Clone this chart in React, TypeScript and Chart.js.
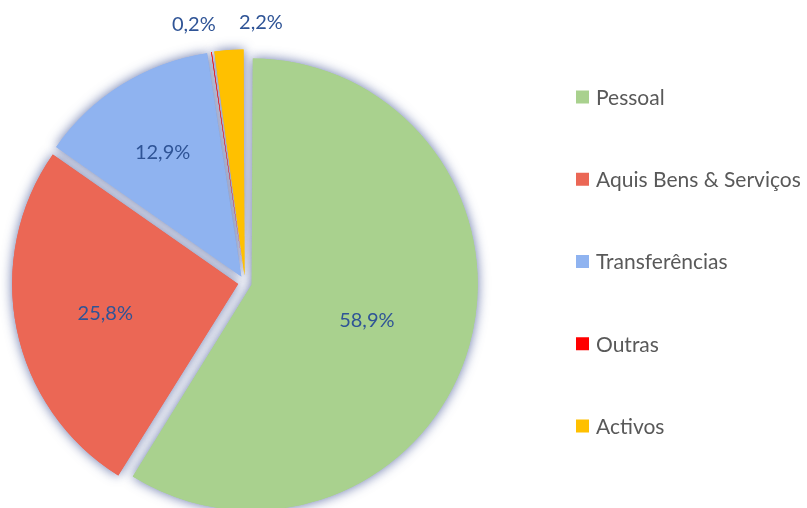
import React, { useEffect, useRef } from "react";
import { Chart, registerables } from "chart.js";

Chart.register(...registerables);

const categories = ["Pessoal", "Aquis Bens & Serviços", "Transferências", "Outras", "Activos"];
const shares = [58.9, 25.8, 12.9, 0.2, 2.2];
const valueLabels = ["58,9%", "25,8%", "12,9%", "0,2%", "2,2%"];
const colors = ["#A9D18E", "#EB6755", "#8FB3F0", "#FF0000", "#FFC000"];

const FONT = "Lato, 'Open Sans', sans-serif";

// Chart.js enlarges exploded arcs wider than 180°; keep every slice the same radius.
const equalRadiusPlugin = {
  id: "equalRadius",
  afterDatasetsUpdate(chart: any) {
    const meta = chart.getDatasetMeta(0);
    meta.data.forEach((arc: any) => {
      const off = (arc.options.offset || 0) / 4;
      const circ = arc.circumference;
      const fix = 1 - Math.sin(Math.min(Math.PI, circ || 0));
      arc.outerRadius = arc.outerRadius - off * fix;
    });
  },
};

// Soft glow drawn underneath all slices (like the Office shadow effect).
const shadowPlugin = {
  id: "sliceShadow",
  beforeDatasetsDraw(chart: any) {
    const ctx = chart.ctx;
    const meta = chart.getDatasetMeta(0);
    ctx.save();
    ctx.shadowColor = "rgba(50, 70, 140, 0.75)";
    ctx.shadowBlur = 12;
    ctx.shadowOffsetX = 0;
    ctx.shadowOffsetY = 0;
    meta.data.forEach((arc: any) => arc.draw(ctx));
    ctx.restore();
  },
};

const labelPlugin = {
  id: "sliceLabels",
  afterDraw(chart: any, _args: any, opts: any) {
    const ctx = chart.ctx;
    const meta = chart.getDatasetMeta(0);
    ctx.save();
    ctx.font = `20px ${FONT}`;
    ctx.fillStyle = opts.color;
    ctx.textBaseline = "middle";
    let smallCount = 0;
    meta.data.forEach((arc: any, i: number) => {
      const p = arc.getProps(["x", "y", "startAngle", "endAngle"], true);
      const mid = (p.startAngle + p.endAngle) / 2;
      const off = (arc.options.offset || 0) / 4;
      const R = opts.radius;
      const share = shares[i];
      if (share >= 5) {
        const f = opts.fractions[i] ?? 0.58;
        const d = off + R * f;
        ctx.textAlign = "center";
        ctx.fillText(valueLabels[i], p.x + Math.cos(mid) * d, p.y + Math.sin(mid) * d + 3);
      } else {
        const d = R + opts.outside;
        const ax = p.x + Math.cos(mid) * d;
        const ay = p.y + Math.sin(mid) * d;
        if (smallCount === 0) {
          ctx.textAlign = "right";
          ctx.fillText(valueLabels[i], ax + 8, ay - 2);
        } else {
          ctx.textAlign = "left";
          ctx.fillText(valueLabels[i], ax + 12, ay - 2);
        }
        smallCount++;
      }
    });
    ctx.restore();
  },
};

const legendPlugin = {
  id: "sideLegend",
  afterDraw(chart: any, _args: any, opts: any) {
    const ctx = chart.ctx;
    const labels: string[] = chart.data.labels;
    const bg: string[] = chart.data.datasets[0].backgroundColor;
    ctx.save();
    ctx.font = `21px ${FONT}`;
    ctx.textBaseline = "middle";
    ctx.textAlign = "left";
    labels.forEach((lab, i) => {
      const cy = opts.top + i * opts.step;
      ctx.fillStyle = bg[i];
      ctx.fillRect(opts.x, cy - 6.5, 13, 13);
      ctx.fillStyle = "#595959";
      ctx.fillText(lab, opts.x + 20, cy + 1);
    });
    ctx.restore();
  },
};

export default function App() {
  const ref = useRef<HTMLCanvasElement | null>(null);
  useEffect(() => {
    if (!ref.current) return;
    const chart = new Chart(ref.current, {
      type: "pie",
      data: {
        labels: categories,
        datasets: [
          {
            data: shares,
            backgroundColor: colors,
            borderWidth: 0,
            offset: 28,
            clip: false,
          } as any,
        ],
      },
      options: {
        responsive: false,
        animation: false,
        radius: 226,
        layout: { padding: { left: 0, top: 57, right: 317, bottom: 0 } },
        plugins: {
          legend: { display: false },
          tooltip: { enabled: false },
          sliceLabels: { color: "#2F5496", radius: 226, fractions: [0.53, 0.6, 0.66], outside: 33 },
          sideLegend: { x: 576, top: 97, step: 82.25 },
        } as any,
      } as any,
      plugins: [equalRadiusPlugin, shadowPlugin, labelPlugin, legendPlugin],
    });
    return () => chart.destroy();
  }, []);
  return (
    <div style={{ position: "fixed", left: 0, top: 0, width: 807, height: 508, background: "#fff" }}>
      <canvas ref={ref} width={807} height={508} style={{ display: "block" }} />
    </div>
  );
}
